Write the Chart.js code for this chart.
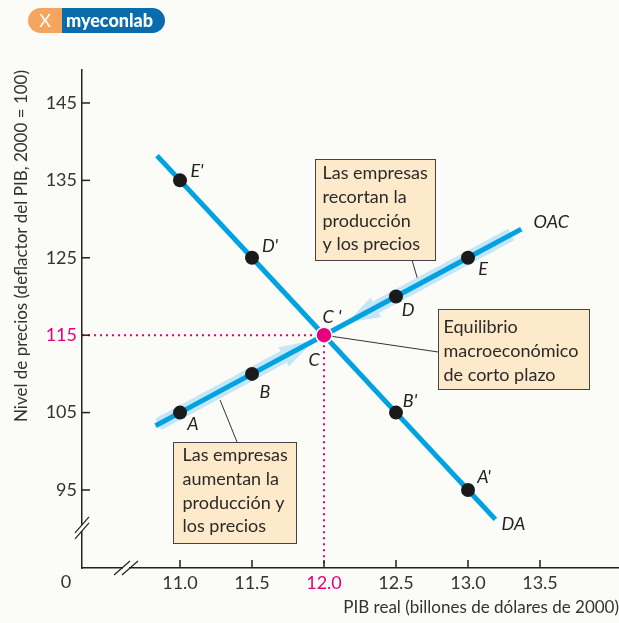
<!doctype html>
<html lang="es">
<head>
<meta charset="utf-8">
<title>OAC y DA - equilibrio macroeconómico</title>
<script src="https://cdn.jsdelivr.net/npm/chart.js"></script>
<style>
  html, body { margin: 0; padding: 0; background: #fbfbf8; }
  .wrap { position: relative; width: 619px; height: 623px; }
  .logo { position: absolute; left: 28px; top: 8px; height: 25px; display: flex; font-family: Lato, sans-serif; }
  .logo .ico { width: 34px; background: #f6a55e; border-radius: 13px 0 0 13px; color: #fff; font-size: 18px; line-height: 25px; text-align: center; }
  .logo .txt { width: 103px; background: #0a6cad; border-radius: 0 13px 13px 0; color: #fff; font-weight: 900; font-size: 18px; line-height: 24px; padding-left: 4px; box-sizing: border-box; }
  canvas { display: block; }
</style>
</head>
<body>
<div class="wrap">
  <div class="logo"><span class="ico">X</span><span class="txt">myeconlab</span></div>
  <canvas id="chart" width="619" height="623"></canvas>
</div>
<script>
// PIB real (billones de dólares de 2000) y nivel de precios
const xTicks = [11.0, 11.5, 12.0, 12.5, 13.0, 13.5];
const yTicks = [95, 105, 115, 125, 135, 145];

// oferta agregada de corto plazo (OAC): A, B, C, D, E
const oacX = [10.83, 11.0, 11.5, 12.0, 12.5, 13.0, 13.37];
const oacY = [103.3, 105, 110, 115, 120, 125, 128.7];
const oacDot = [0, 1, 1, 0, 1, 1, 0];

// demanda agregada (DA): E', D', C', B', A'
const daX = [10.84, 11.0, 11.5, 12.0, 12.5, 13.0, 13.19];
const daY = [138.2, 135, 125, 115, 105, 95, 91.2];
const daDot = [0, 1, 1, 0, 1, 1, 0];

// equilibrio
const eqX = [12.0];
const eqY = [115];

// franjas claras con flecha (ajuste hacia el equilibrio)
const bandLowX = [10.85, 11.72];
const bandLowY = [103.5, 112.2];
const bandHighX = [13.3, 12.36];
const bandHighY = [128.0, 118.6];
const arrowTips = [[11.93, 114.3], [12.16, 116.6]];

const BLUE = '#00a3e0';
const BAND = '#c4e6f7';
const MAG = '#e5007d';
const FONT = 'Lato, "Noto Sans", sans-serif';

const xMin = 10.3194, xMax = 14.0486;
const yMin = 84.92, yMax = 149.26;

const pts = (xs, ys) => xs.map((v, i) => ({ x: v, y: ys[i] }));

// letter labels: text, data x, data y, pixel dx, dy
const pointLabels = [
  ["E'", 11.0, 135, 17, -9],
  ["D'", 11.5, 125, 18, -12],
  ["C '", 12.0, 115, 8, -18],
  ['D', 12.5, 120, 12, 14],
  ['E', 13.0, 125, 15, 11],
  ['OAC', 13.37, 128.7, 30, -7],
  ['A', 11.0, 105, 13, 12],
  ['B', 11.5, 110, 13, 18],
  ['C', 12.0, 115, -10, 25],
  ["B'", 12.5, 105, 14, -11],
  ["A'", 13.0, 95, 16, -13],
  ['DA', 13.19, 91.2, 18, 5]
];

// callout boxes: top-left in data units, then size and text
const boxes = [
  { x: 11.9375, y: 137.77, w: 120, h: 101, first: 14, pad: 7,
    lines: ['Las empresas', 'recortan la', 'producción', 'y los precios'] },
  { x: 12.792, y: 118.39, w: 151, h: 80, first: 18, pad: 5,
    lines: ['Equilibrio', 'macroeconómico', 'de corto plazo'] },
  { x: 10.951, y: 101.2, w: 123, h: 101, first: 13, pad: 9,
    lines: ['Las empresas', 'aumentan la', 'producción y', 'los precios'] }
];
const connectors = [
  [12.611, 124.72, 12.66, 121.6],
  [12.0, 115, 12.792, 112.83],
  [11.278, 106.63, 11.396, 101.2]
];

const annot = {
  id: 'annot',
  beforeDatasetsDraw(chart) {
    const { ctx, scales: { x, y } } = chart;
    ctx.save();
    // arrowheads of the light bands
    const ends = [[bandLowX[1], bandLowY[1]], [bandHighX[1], bandHighY[1]]];
    ctx.fillStyle = BAND;
    ends.forEach((b, i) => {
      const bx = x.getPixelForValue(b[0]), by = y.getPixelForValue(b[1]);
      const tx = x.getPixelForValue(arrowTips[i][0]), ty = y.getPixelForValue(arrowTips[i][1]);
      const len = Math.hypot(tx - bx, ty - by);
      const nx = -(ty - by) / len, ny = (tx - bx) / len;
      ctx.beginPath();
      ctx.moveTo(bx + nx * 11, by + ny * 11);
      ctx.lineTo(tx, ty);
      ctx.lineTo(bx - nx * 11, by - ny * 11);
      ctx.closePath();
      ctx.fill();
    });
    // callout lines
    ctx.strokeStyle = '#333';
    ctx.lineWidth = 1;
    connectors.forEach(c => {
      ctx.beginPath();
      ctx.moveTo(x.getPixelForValue(c[0]), y.getPixelForValue(c[1]));
      ctx.lineTo(x.getPixelForValue(c[2]), y.getPixelForValue(c[3]));
      ctx.stroke();
    });
    ctx.restore();
  },
  afterDatasetsDraw(chart) {
    const { ctx, scales: { x, y } } = chart;
    ctx.save();
    ctx.fillStyle = '#222';
    ctx.font = 'italic 18px ' + FONT;
    ctx.textAlign = 'center';
    ctx.textBaseline = 'middle';
    pointLabels.forEach(l => {
      ctx.fillText(l[0], x.getPixelForValue(l[1]) + l[3], y.getPixelForValue(l[2]) + l[4]);
    });

    ctx.font = '18px ' + FONT;
    ctx.textAlign = 'left';
    boxes.forEach(b => {
      const bx = Math.round(x.getPixelForValue(b.x)) + 0.5;
      const by = Math.round(y.getPixelForValue(b.y)) + 0.5;
      ctx.fillStyle = '#fdeacb';
      ctx.fillRect(bx, by, b.w, b.h);
      ctx.strokeStyle = '#444';
      ctx.lineWidth = 1;
      ctx.strokeRect(bx, by, b.w, b.h);
      ctx.fillStyle = '#2a2a2a';
      b.lines.forEach((t, i) => ctx.fillText(t, bx + b.pad, by + b.first + i * 23.7));
    });
    ctx.restore();
  },
  afterDraw(chart) {
    const { ctx, scales: { x, y } } = chart;
    ctx.save();
    ctx.strokeStyle = '#222';
    ctx.lineWidth = 1.5;
    // inward tick marks
    xTicks.forEach(v => {
      const px = x.getPixelForValue(v);
      ctx.beginPath(); ctx.moveTo(px, y.bottom); ctx.lineTo(px, y.bottom - 8); ctx.stroke();
    });
    yTicks.forEach(v => {
      const py = y.getPixelForValue(v);
      ctx.beginPath(); ctx.moveTo(x.left, py); ctx.lineTo(x.left + 8, py); ctx.stroke();
    });
    // axis breaks
    const by = y.getPixelForValue(90.1), bx = x.left;
    ctx.fillStyle = '#fbfbf8';
    ctx.fillRect(bx - 3, by - 3, 6, 6);
    ctx.lineWidth = 1.2;
    [-3, 3].forEach(d => {
      ctx.beginPath(); ctx.moveTo(bx - 7, by + 8 + d); ctx.lineTo(bx + 7, by - 8 + d); ctx.stroke();
    });
    const cx = x.getPixelForValue(10.625), cy = y.bottom;
    ctx.fillRect(cx - 3, cy - 3, 6, 6);
    [-4, 4].forEach(d => {
      ctx.beginPath(); ctx.moveTo(cx - 8 + d, cy + 7); ctx.lineTo(cx + 8 + d, cy - 7); ctx.stroke();
    });
    // origin label
    ctx.fillStyle = '#333';
    ctx.font = '18px ' + FONT;
    ctx.textAlign = 'center';
    ctx.textBaseline = 'middle';
    ctx.fillText('0', x.left - 16, y.bottom + 14);
    ctx.restore();
  }
};

new Chart(document.getElementById('chart'), {
  type: 'scatter',
  data: {
    datasets: [
      { data: pts(bandLowX, bandLowY), showLine: true, borderColor: BAND, borderWidth: 13,
        pointRadius: 0, borderCapStyle: 'butt', order: 6 },
      { data: pts(bandHighX, bandHighY), showLine: true, borderColor: BAND, borderWidth: 13,
        pointRadius: 0, borderCapStyle: 'butt', order: 6 },
      { data: [{ x: xMin, y: eqY[0] }, { x: eqX[0], y: eqY[0] }, { x: eqX[0], y: yMin }],
        showLine: true, borderColor: MAG, borderWidth: 2, borderDash: [2, 4],
        pointRadius: 0, order: 5 },
      { label: 'DA', data: pts(daX, daY), showLine: true, borderColor: BLUE, borderWidth: 5,
        pointRadius: daDot.map(d => d ? 7 : 0), pointBackgroundColor: '#1a1a1a',
        pointBorderWidth: 0, order: 3 },
      { label: 'OAC', data: pts(oacX, oacY), showLine: true, borderColor: BLUE, borderWidth: 5,
        pointRadius: oacDot.map(d => d ? 7 : 0), pointBackgroundColor: '#1a1a1a',
        pointBorderWidth: 0, order: 2 },
      { data: pts(eqX, eqY), pointRadius: 8, pointBackgroundColor: MAG,
        pointBorderColor: '#fff', pointBorderWidth: 1.5, order: 1 }
    ]
  },
  options: {
    responsive: false,
    animation: false,
    devicePixelRatio: 1,
    layout: { autoPadding: false, padding: { top: 70, left: 0, right: 0, bottom: 0 } },
    plugins: { legend: { display: false }, tooltip: { enabled: false } },
    scales: {
      x: {
        type: 'linear', min: xMin, max: xMax,
        afterBuildTicks: s => { s.ticks = xTicks.map(v => ({ value: v })); },
        afterFit: s => { s.height = 55; s.paddingLeft = 0; s.paddingRight = 0; },
        grid: { display: false, drawTicks: false },
        border: { display: true, color: '#222', width: 1.5 },
        ticks: {
          padding: 4,
          font: { family: FONT, size: 18 },
          color: c => c.tick && c.tick.value === eqX[0] ? MAG : '#333',
          callback: v => v.toFixed(1)
        },
        title: {
          display: true, text: 'PIB real (billones de dólares de 2000)', align: 'end',
          font: { family: FONT, size: 17 }, color: '#333', padding: { top: 0, bottom: 5 }
        }
      },
      y: {
        type: 'linear', min: yMin, max: yMax,
        afterBuildTicks: s => { s.ticks = yTicks.map(v => ({ value: v })); },
        afterFit: s => { s.width = 82; s.paddingTop = 0; s.paddingBottom = 0; },
        grid: { display: false, drawTicks: false },
        border: { display: true, color: '#222', width: 1.5 },
        ticks: {
          padding: 5,
          font: { family: FONT, size: 18 },
          color: c => c.tick && c.tick.value === eqY[0] ? MAG : '#333',
          callback: v => String(v)
        },
        title: {
          display: true, text: 'Nivel de precios (deflactor del PIB, 2000 = 100)', align: 'end',
          font: { family: FONT, size: 17 }, color: '#333', padding: { top: 11, bottom: 0 }
        }
      }
    }
  },
  plugins: [annot]
});
</script>
</body>
</html>
